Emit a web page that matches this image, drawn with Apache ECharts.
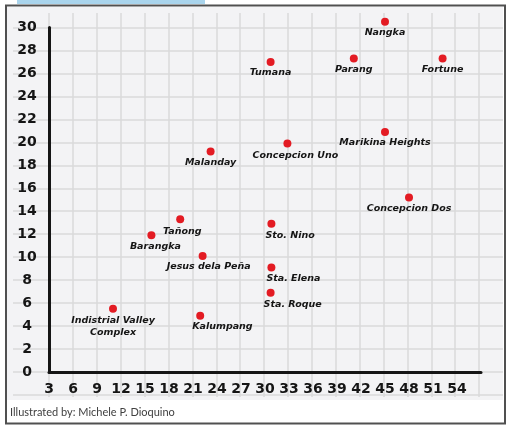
<!DOCTYPE html>
<html>
<head>
<meta charset="utf-8">
<script src="https://cdn.jsdelivr.net/npm/echarts@6/dist/echarts.min.js"></script>
<style>
html, body { margin: 0; padding: 0; background: #fff; }
#chart { width: 512px; height: 430px; }
</style>
</head>
<body>
<div id="chart"></div>
<script>
// barangay positions
var names = ['Nangka', 'Tumana', 'Parang', 'Fortune', 'Marikina Heights', 'Concepcion Uno',
    'Malanday', 'Concepcion Dos', 'Tañong', 'Barangka', 'Jesus dela Peña', 'Sto. Nino',
    'Sta. Elena', 'Sta. Roque', 'Indistrial Valley\nComplex', 'Kalumpang'];
var xValues = [45, 30.7, 41.1, 52.2, 45, 32.8, 23.2, 48, 19.4, 15.8, 22.2, 30.8, 30.8, 30.7, 11, 21.9];
var yValues = [30.5, 27, 27.3, 27.3, 20.9, 19.9, 19.2, 15.2, 13.3, 11.9, 10.1, 12.9, 9.1, 6.9, 5.5, 4.9];

var xMin = 3, xMax = 57, xStep = 3;
var yMin = 0, yMax = 30, yStep = 2;
var caption = 'Illustrated by: Michele P. Dioquino';

// how each hand-placed label sits next to its dot
var labelShift = {
    'Concepcion Uno': { offset: [8, 1] },
    'Tañong': { offset: [2, 1] },
    'Barangka': { offset: [4, 0] },
    'Jesus dela Peña': { offset: [6, 0] },
    'Kalumpang': { align: 'left', offset: [-8, 0] },
    'Sto. Nino': { align: 'left', offset: [-6, 1] },
    'Sta. Elena': { align: 'left', offset: [-5, 0] },
    'Sta. Roque': { align: 'left', offset: [-7, 1] },
    'Indistrial Valley\nComplex': { offset: [0, 1], align: 'center' }
};

var points = names.map(function (n, i) {
    var item = { name: n, value: [xValues[i], yValues[i]] };
    if (labelShift[n]) item.label = labelShift[n];
    return item;
});

var gridColor = '#dadada';
var ink = '#151515';

var chart = echarts.init(document.getElementById('chart'));
var option = {
    animation: false,
    backgroundColor: '#fff',
    graphic: [
        { type: 'rect', z: -10, shape: { x: 17, y: 0, width: 188, height: 4 }, style: { fill: '#a9d4ec' } },
        { type: 'rect', z: -10, shape: { x: 6, y: 5.5, width: 499, height: 418 }, style: { fill: '#fff', stroke: '#505050', lineWidth: 2 } },
        { type: 'rect', z: -9, shape: { x: 7, y: 7, width: 496, height: 393 }, style: { fill: '#f3f3f5' } },
        { type: 'text', z: -8, left: 10, top: 407, style: { text: caption, fill: '#404040', font: '11px Lato' } }
    ],
    grid: [
        { left: 49, top: 27.5, width: 432, height: 344.5 },   // data
        { left: 13, right: 9, top: 16, height: 379 },          // paper rows
        { left: 49, right: 9, top: 13, bottom: 33 }            // paper columns
    ],
    xAxis: [
        {
            gridIndex: 0, type: 'value', min: xMin, max: xMax, interval: xStep,
            axisLine: { lineStyle: { color: ink, width: 3 } },
            axisTick: { show: false },
            splitLine: { show: false },
            axisLabel: {
                margin: 10, color: ink, fontSize: 14, fontWeight: 'bold', fontFamily: 'DejaVu Sans',
                showMaxLabel: false
            }
        },
        { gridIndex: 1, type: 'value', min: 0, max: 1, show: false },
        {
            gridIndex: 2, type: 'value', min: xMin, max: 60, interval: xStep,
            axisLine: { show: false }, axisTick: { show: false }, axisLabel: { show: false },
            splitLine: { show: true, showMaxLine: false, lineStyle: { color: gridColor, width: 1.5 } }
        }
    ],
    yAxis: [
        {
            gridIndex: 0, type: 'value', min: yMin, max: yMax, interval: yStep,
            axisLine: { show: true, lineStyle: { color: ink, width: 3 } },
            axisTick: { show: false },
            splitLine: { show: false },
            axisLabel: {
                margin: 22, align: 'center', color: ink, fontSize: 14, fontWeight: 'bold', fontFamily: 'DejaVu Sans'
            }
        },
        {
            gridIndex: 1, type: 'value', min: -2, max: 31, interval: yStep,
            axisLine: { show: false }, axisTick: { show: false }, axisLabel: { show: false },
            splitLine: { show: true, showMaxLine: false, lineStyle: { color: gridColor, width: 1.5 } }
        },
        { gridIndex: 2, type: 'value', min: 0, max: 1, show: false }
    ],
    series: [{
        type: 'scatter',
        xAxisIndex: 0,
        yAxisIndex: 0,
        clip: false,
        symbolSize: 8,
        itemStyle: { color: '#e31b23', opacity: 1 },
        label: {
            show: true,
            position: 'bottom',
            distance: 1,
            formatter: '{b}',
            color: ink,
            fontSize: 9.5,
            lineHeight: 12,
            fontWeight: 'bold',
            fontStyle: 'italic',
            fontFamily: 'DejaVu Sans'
        },
        data: points
    }]
};
chart.setOption(option);
</script>
</body>
</html>
